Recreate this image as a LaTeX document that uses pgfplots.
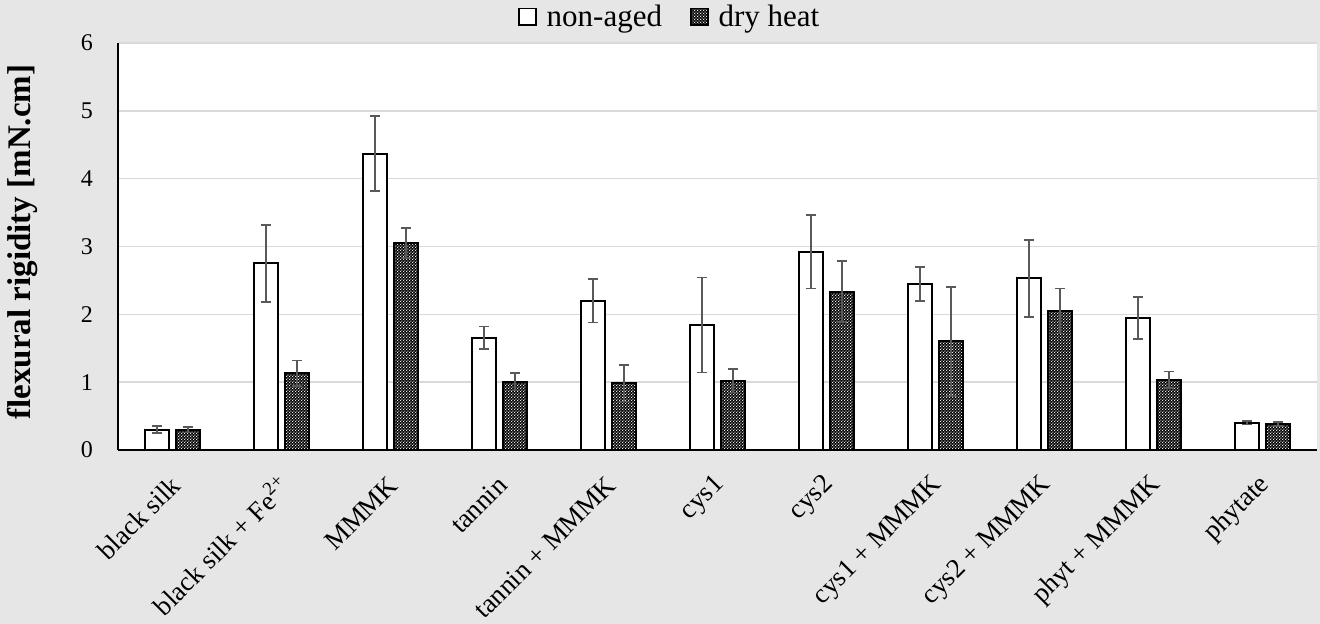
\documentclass[border=0pt]{standalone}
\usepackage{fontspec}
\setmainfont{Liberation Serif}
\usepackage{pgfplots}
\pgfplotsset{compat=1.18}
\usetikzlibrary{patterns.meta}

\definecolor{bggray}{RGB}{230,230,230}
\definecolor{gridgray}{RGB}{217,217,217}
\definecolor{errgray}{RGB}{89,89,89}

% white dot lattice laid over black, like the dry heat fill
\tikzdeclarepattern{
  name=drydots,
  type=uncolored,
  bounding box={(0pt,0pt) and (1.6pt,1.6pt)},
  tile size={(1.6pt,1.6pt)},
  code={
    \fill (0.4pt,0.4pt) circle (0.42pt);
    \fill (1.2pt,1.2pt) circle (0.42pt);
  }
}

\pgfplotsset{
  errstyle/.style={
    error bars/.cd,
      y dir=both, y explicit,
      error bar style={errgray, line width=0.8pt},
      error mark options={errgray, rotate=90, mark size=2.6pt, line width=0.8pt},
  },
}

\begin{document}
\begin{tikzpicture}
\fill[bggray] (0pt,0pt) rectangle (660pt,312pt);
\begin{axis}[
  at={(59pt,87pt)}, anchor=south west,
  scale only axis, width=599.5pt, height=203.5pt,
  axis background/.style={fill=white},
  ybar,
  bar width=12pt,
  xmin=-0.5, xmax=10.5,
  ymin=0, ymax=6,
  ytick={0,1,2,3,4,5,6},
  xtick={0,...,10},
  xticklabels={black silk, black silk + Fe\textsuperscript{2+}, MMMK, tannin,
    tannin + MMMK, cys1, cys2, cys1 + MMMK, cys2 + MMMK, phyt + MMMK, phytate},
  axis x line*=bottom, axis y line*=left,
  axis line style={black, line width=1pt},
  ymajorgrids,
  grid style={gridgray, line width=0.8pt},
  major tick length=0pt,
  /pgf/number format/assume math mode=true,
  yticklabel style={font=\fontsize{12}{14}\selectfont, anchor=east, xshift=-9pt},
  xticklabel style={font=\fontsize{13.5}{15}\selectfont, yshift=-13pt, xshift=4pt, rotate=45, anchor=east},
  ylabel={\textbf{flexural rigidity [mN.cm]}},
  ylabel style={font=\fontsize{16.5}{18}\selectfont, at={(axis description cs:-0.08,0.511)}, anchor=center},
  legend style={at={(axis description cs:0.461,1.064)}, anchor=center,
    draw=none, fill=none, font=\fontsize{15.5}{17}\selectfont,
    legend columns=2,
    /tikz/every odd column/.append style={column sep=3pt},
    /tikz/every even column/.append style={column sep=12pt}},
  legend image code/.code={\draw[#1, line width=0.9pt] (0pt,-4.2pt) rectangle (8.4pt,4.2pt);},
]

% non-aged
\addplot[fill=white, draw=black, line width=1pt, bar shift=-7.75pt, errstyle]
  coordinates {
    (0,0.30) +- (0,0.05)
    (1,2.75) +- (0,0.565)
    (2,4.37) +- (0,0.555)
    (3,1.655) +- (0,0.165)
    (4,2.20) +- (0,0.32)
    (5,1.84) +- (0,0.70)
    (6,2.92) +- (0,0.54)
    (7,2.45) +- (0,0.25)
    (8,2.53) +- (0,0.565)
    (9,1.945) +- (0,0.31)
    (10,0.40) +- (0,0.025)
  };

% dry heat
\addplot[fill=black, draw=black, line width=1pt, bar shift=7.75pt,
  postaction={pattern color=white, pattern=drydots}, errstyle]
  coordinates {
    (0,0.30) +- (0,0.04)
    (1,1.13) +- (0,0.19)
    (2,3.05) +- (0,0.22)
    (3,1.005) +- (0,0.13)
    (4,0.985) +- (0,0.27)
    (5,1.02) +- (0,0.17)
    (6,2.335) +- (0,0.45)
    (7,1.60) +- (0,0.80)
    (8,2.05) +- (0,0.33)
    (9,1.035) +- (0,0.12)
    (10,0.38) +- (0,0.03)
  };

\legend{non-aged, dry heat}
\end{axis}
\pgfresetboundingbox
\path[use as bounding box] (0pt,0pt) rectangle (660pt,312pt);
\end{tikzpicture}
\end{document}
